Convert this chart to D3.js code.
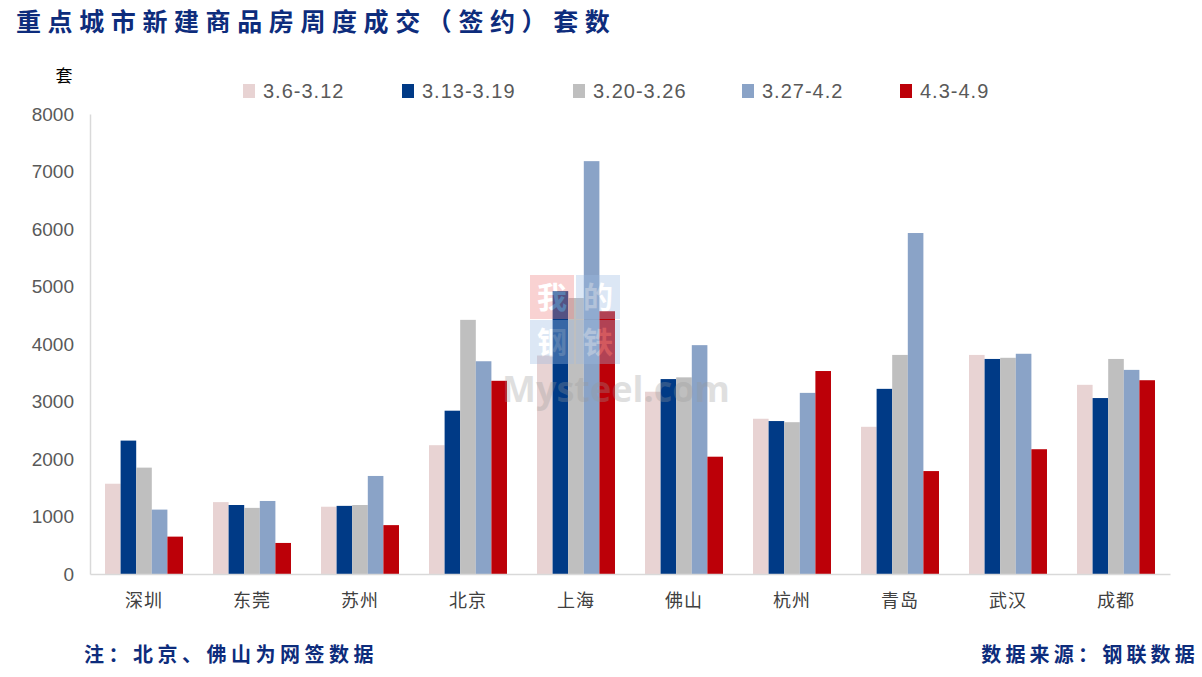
<!DOCTYPE html>
<html><head><meta charset="utf-8">
<script src="https://cdn.jsdelivr.net/npm/d3@7"></script>
<style>body{margin:0;background:#fff;}svg{display:block;}</style>
</head><body>
<svg id="c" width="1202" height="677"></svg>
<script>
const cities = ["深圳","东莞","苏州","北京","上海","佛山","杭州","青岛","武汉","成都"];
const seriesNames = ["3.6-3.12","3.13-3.19","3.20-3.26","3.27-4.2","4.3-4.9"];
const s1 = [1570,1250,1170,2240,3800,3170,2700,2560,3810,3290];
const s2 = [2320,1200,1185,2840,4920,3390,2660,3220,3740,3060];
const s3 = [1850,1150,1200,4420,4800,3420,2640,3810,3760,3740];
const s4 = [1120,1270,1705,3700,7180,3980,3150,5930,3830,3550];
const s5 = [650,540,850,3360,4570,2040,3530,1790,2170,3370];
const yTicks = [0,1000,2000,3000,4000,5000,6000,7000,8000];
const colors = ["#E8D3D3","#003A86","#BFBFBF","#8AA3C7","#BC0008"];
const series = [s1,s2,s3,s4,s5];

const svg = d3.select("#c");
const m = {l:90, r:1170, t:114, b:574};
const x = d3.scaleBand().domain(cities).range([m.l, m.r]).paddingInner(0.278).paddingOuter(0.139);
const xi = d3.scaleBand().domain(d3.range(5)).range([0, x.bandwidth()]);
const y = d3.scaleLinear().domain([0,8000]).range([m.b, m.t]);

const cjk = "'Noto Sans CJK SC','Noto Sans',sans-serif";

// title
svg.append("text").attr("x",16).attr("y",31).attr("font-family",cjk).attr("font-weight","bold")
  .attr("font-size",25).attr("letter-spacing",6.6).attr("fill","#0D2C7C").text("重点城市新建商品房周度成交（签约）套数");

// unit
svg.append("text").attr("x",64).attr("y",82).attr("text-anchor","middle").attr("font-family",cjk)
  .attr("font-size",17).attr("fill","#000").text("套");

// watermark (behind nothing: drawn under bars? reference overlays; draw after bars)
// y axis
const yAxis = d3.axisLeft(y).tickValues(yTicks).tickSize(0).tickPadding(16).tickFormat(d3.format("d"));
const gy = svg.append("g").attr("transform",`translate(${m.l},0)`).call(yAxis);
gy.select(".domain").attr("stroke","#D9D9D9").attr("stroke-width",1.5);
gy.selectAll("text").attr("font-family","'Liberation Sans',Arial,sans-serif").attr("font-size",19).attr("fill","#595959");

// bars
const g = svg.append("g");
series.forEach((s,i)=>{
  g.selectAll(null).data(s).join("rect")
    .attr("x",(d,j)=>x(cities[j])+xi(i))
    .attr("y",d=>y(d))
    .attr("width",xi.bandwidth())
    .attr("height",d=>y(0)-y(d))
    .attr("fill",colors[i]);
});

// x axis
const xAxis = d3.axisBottom(x).tickSize(0).tickPadding(20);
const gx = svg.append("g").attr("transform",`translate(0,${m.b})`).call(xAxis);
gx.select(".domain").attr("stroke","#D9D9D9").attr("stroke-width",1.5);
gx.selectAll("text").attr("font-family",cjk).attr("font-size",18).attr("letter-spacing",1).attr("fill","#404040");

// legend
const legX = [243,402,573,742,900];
seriesNames.forEach((n,i)=>{
  svg.append("rect").attr("x",legX[i]).attr("y",84).attr("width",12).attr("height",14).attr("fill",colors[i]);
  svg.append("text").attr("x",legX[i]+20).attr("y",98).attr("font-family","'Liberation Sans',Arial,sans-serif")
    .attr("font-size",20).attr("letter-spacing",1).attr("fill","#595959").text(n);
});

// watermark
const wm = svg.append("g").attr("opacity",0.35);
const boxes = [{t:"我",c:"#F08080",x:530,y:275},{t:"的",c:"#9DBCE3",x:576,y:275},{t:"钢",c:"#9DBCE3",x:530,y:320},{t:"铁",c:"#9DBCE3",x:576,y:320}];
boxes.forEach(b=>{
  wm.append("rect").attr("x",b.x).attr("y",b.y).attr("width",44).attr("height",44).attr("fill",b.c);
  wm.append("text").attr("x",b.x+22).attr("y",b.y+33).attr("text-anchor","middle").attr("font-family",cjk)
    .attr("font-weight","bold").attr("font-size",30).attr("fill","#fff").text(b.t);
});
svg.append("text").attr("x",502).attr("y",402).attr("font-family","'Open Sans','DejaVu Sans',sans-serif").attr("font-weight","bold")
  .attr("font-size",36).attr("fill","#999").attr("opacity",0.3).text("Mysteel.com");

// footer
svg.append("text").attr("x",84).attr("y",662).attr("font-family",cjk).attr("font-weight","bold")
  .attr("font-size",20).attr("letter-spacing",4.5).attr("fill","#0D2C7C").text("注：北京、佛山为网签数据");
svg.append("text").attr("x",1199).attr("y",662).attr("text-anchor","end").attr("font-family",cjk).attr("font-weight","bold")
  .attr("font-size",20).attr("letter-spacing",4.2).attr("fill","#0D2C7C").text("数据来源：钢联数据");
</script>
</body></html>
